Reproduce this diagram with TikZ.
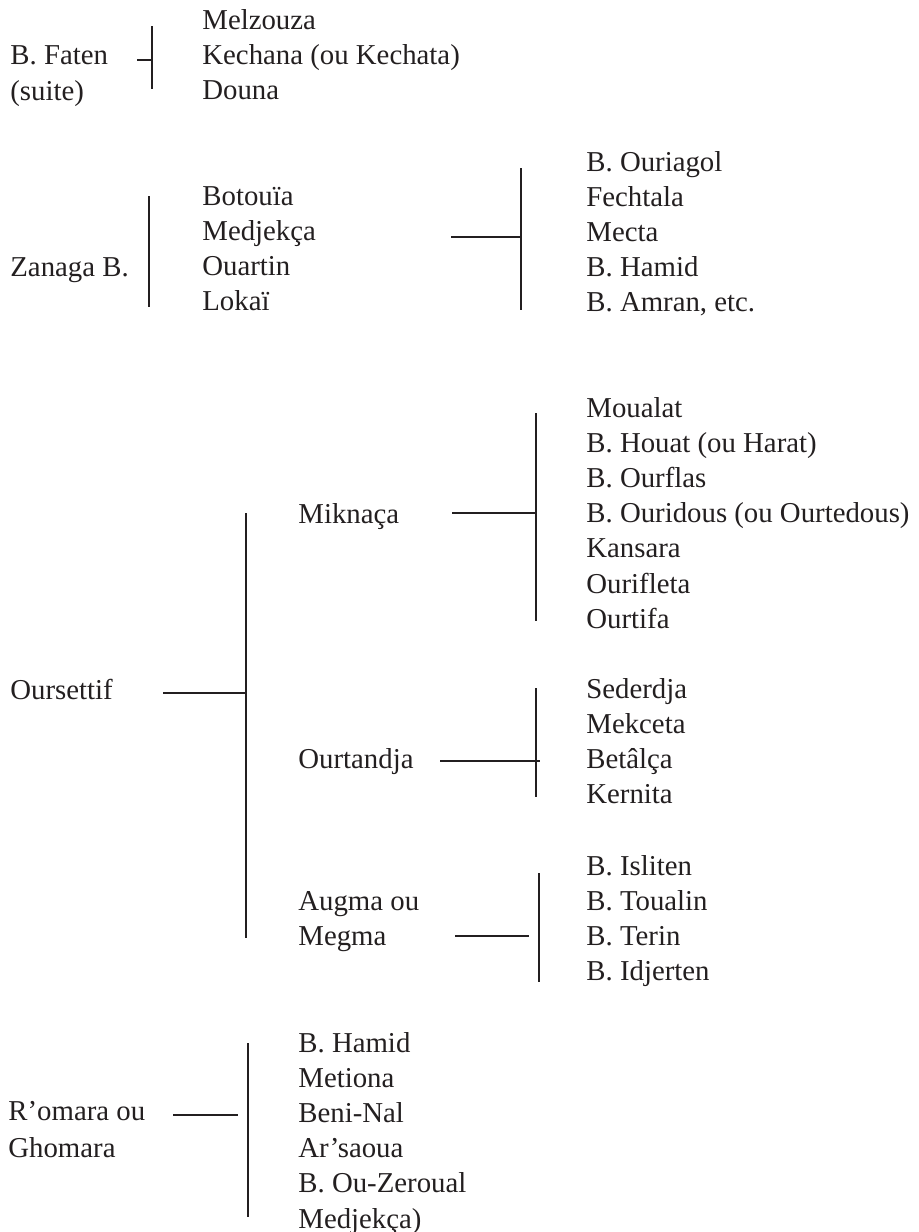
\documentclass[tikz,border=0pt]{standalone}
\usepackage{fontspec}
\setmainfont{Liberation Serif}
\definecolor{ink}{HTML}{231F20}

\tikzset{
  tribe/.style={anchor=base west, inner sep=0pt, text=ink, font=\fontsize{14.4}{17.6}\selectfont},
  link/.style={draw=ink, line width=1.1pt}
}

\begin{document}
\begin{tikzpicture}[x=0.5pt,y=-0.5pt]
        \useasboundingbox (0,0) rectangle (918,1232);

        % B. Faten
        \node[tribe] (faten) at (10,64) {B. Faten};
        \node[tribe] (faten2) at (10,100) {(suite)};
        \foreach \Name [count=\i] in {Melzouza, {Kechana (ou Kechata)}, Douna}{
        \node[tribe] (fa\i) at (202,{29.5+35*(\i-1)}) {\Name};
        }
        \coordinate (faT) at (152,26);
        \coordinate (faB) at (152,89);
        \coordinate (faL) at (137,60);
        \draw[link] (faT) -- (faB);
        \draw[link] (faL) -- (faL -| faT);

        % Zanaga B.
        \node[tribe] (zanaga) at (10,276) {Zanaga B.};
        \foreach \Name [count=\i] in {Botouïa, Medjekça, Ouartin, Lokaï}{
        \node[tribe] (za\i) at (202,{205+35.2*(\i-1)}) {\Name};
        }
        \coordinate (zaT) at (149,196);
        \coordinate (zaB) at (149,307);
        \draw[link] (zaT) -- (zaB);

        \foreach \Name [count=\i] in {B. Ouriagol, Fechtala, Mecta, B. Hamid, {B. Amran, etc.}}{
        \node[tribe] (og\i) at (586,{171+35.2*(\i-1)}) {\Name};
        }
        \coordinate (ogT) at (521,168);
        \coordinate (ogB) at (521,310);
        \coordinate (ogL) at (451,237);
        \draw[link] (ogT) -- (ogB);
        \draw[link] (ogL) -- (ogL -| ogT);

        % Oursettif
        \node[tribe] (oursettif) at (10,699) {Oursettif};
        \coordinate (osT) at (246,513);
        \coordinate (osB) at (246,938);
        \coordinate (osL) at (163,693);
        \draw[link] (osT) -- (osB);
        \draw[link] (osL) -- (osL -| osT);

        % Miknaça
        \node[tribe] (miknaca) at (298,523) {Miknaça};
        \foreach \Name [count=\i] in {Moualat, {B. Houat (ou Harat)}, B. Ourflas, {B. Ouridous (ou Ourtedous)}, Kansara, Ourifleta, Ourtifa}{
        \node[tribe] (mi\i) at (586,{417+35.2*(\i-1)}) {\Name};
        }
        \coordinate (miT) at (536,413);
        \coordinate (miB) at (536,621);
        \coordinate (miL) at (452,513);
        \draw[link] (miT) -- (miB);
        \draw[link] (miL) -- (miL -| miT);

        % Ourtandja
        \node[tribe] (ourtandja) at (298,768) {Ourtandja};
        \foreach \Name [count=\i] in {Sederdja, Mekceta, Betâlça, Kernita}{
        \node[tribe] (ot\i) at (586,{698+35.2*(\i-1)}) {\Name};
        }
        \coordinate (otT) at (536,688);
        \coordinate (otB) at (536,797);
        \coordinate (otL) at (440,761);
        \draw[link] (otT) -- (otB);
        \draw[link] (otL) -- ([xshift=2]otL -| otT);

        % Augma ou Megma
        \node[tribe] (augma) at (298,910) {Augma ou};
        \node[tribe] (augma2) at (298,945) {Megma};
        \foreach \Name [count=\i] in {B. Isliten, B. Toualin, B. Terin, B. Idjerten}{
        \node[tribe] (ag\i) at (586,{875+35.2*(\i-1)}) {\Name};
        }
        \coordinate (agT) at (539,873);
        \coordinate (agB) at (539,982);
        \coordinate (agL) at (455,936);
        \draw[link] (agT) -- (agB);
        \draw[link] (agL) -- ([xshift=-5]agL -| agT);

        % R'omara ou Ghomara
        \node[tribe] (romara) at (8,1120) {R’omara ou};
        \node[tribe] (romara2) at (8,1157) {Ghomara};
        \foreach \Name [count=\i] in {B. Hamid, Metiona, Beni-Nal, Ar’saoua, B. Ou-Zeroual, Medjekça)}{
        \node[tribe] (ro\i) at (298,{1052+35.2*(\i-1)}) {\Name};
        }
        \coordinate (roT) at (248,1043);
        \coordinate (roB) at (248,1217);
        \coordinate (roL) at (173,1115);
        \draw[link] (roT) -- (roB);
        \draw[link] (roL) -- ([xshift=-5]roL -| roT);
\end{tikzpicture}
\end{document}
